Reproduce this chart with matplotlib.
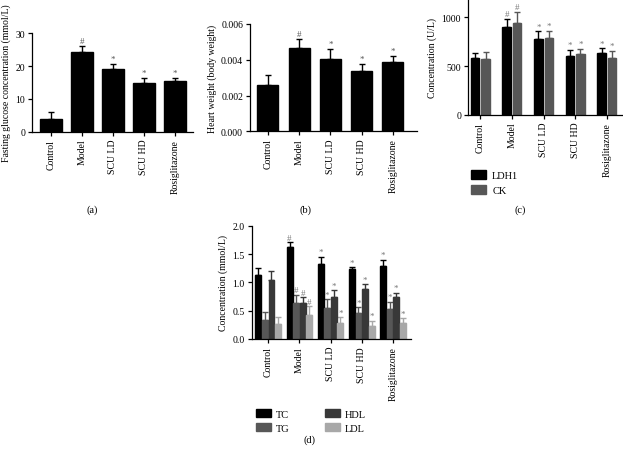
import numpy as np
import matplotlib
matplotlib.use("Agg")
import matplotlib.pyplot as plt
from matplotlib.patches import Patch

plt.rcParams["font.family"] = ["Liberation Serif", "DejaVu Serif"]
plt.rcParams["font.size"] = 7

groups = ["Control", "Model", "SCU LD", "SCU HD", "Rosiglitazone"]
marks = ["", "#", "*", "*", "*"]

# (a) fasting glucose
glucose = [3.9, 24.3, 19.1, 14.8, 15.4]
glucose_err = [2.0, 1.7, 1.6, 1.5, 1.0]

# (b) heart weight / body weight
heart = [0.00261, 0.00468, 0.00404, 0.00339, 0.00389]
heart_err = [0.00052, 0.0005, 0.00058, 0.00039, 0.00032]

# (c) enzymes
ldh1 = [582, 900, 777, 599, 630]
ldh1_err = [48, 83, 79, 65, 52]
ck = [575, 942, 784, 627, 579]
ck_err = [72, 116, 76, 51, 79]

# (d) lipids
tc = [1.13, 1.62, 1.33, 1.24, 1.28]
tc_err = [0.12, 0.09, 0.12, 0.03, 0.12]
tg = [0.34, 0.635, 0.55, 0.46, 0.535]
tg_err = [0.13, 0.145, 0.155, 0.105, 0.125]
hdl = [1.05, 0.63, 0.75, 0.89, 0.75]
hdl_err = [0.15, 0.105, 0.11, 0.08, 0.07]
ldl = [0.26, 0.42, 0.28, 0.235, 0.28]
ldl_err = [0.12, 0.16, 0.10, 0.085, 0.085]

W, H = 623, 452
fig = plt.figure(figsize=(W / 100, H / 100), dpi=100)


def add_ax(l, r, t, b):
    return fig.add_axes([l / W, 1 - b / H, (r - l) / W, (b - t) / H])


def style(ax):
    ax.spines["top"].set_visible(False)
    ax.spines["right"].set_visible(False)
    ax.spines["left"].set_linewidth(0.9)
    ax.spines["bottom"].set_linewidth(0.9)
    ax.tick_params(length=3, width=0.9, pad=2)
    ax.set_xticks(range(len(groups)))
    ax.set_xticklabels(groups, rotation=90)


def bars(ax, x, vals, errs, width, color, markc, mark_list, off):
    ax.bar(x, vals, width, color=color, edgecolor=color, zorder=2)
    ax.errorbar(x, vals, yerr=[np.zeros(len(vals)), errs], fmt="none",
                ecolor=color, elinewidth=1.0, capsize=2.5, capthick=1.0, zorder=1)
    for xi, v, e, m in zip(x, vals, errs, mark_list):
        if m:
            ax.text(xi, v + e + off, m, ha="center", va="bottom",
                    color=markc, fontsize=6.5)


x = np.arange(len(groups))

# panel a
ax = add_ax(32.3, 192.7, 34.3, 132.7)
bars(ax, x, glucose, glucose_err, 0.7, "black", "#555555", marks, 0.3)
ax.set_ylim(0, 30)
ax.set_yticks([0, 10, 20, 30])
ax.set_xlim(-0.6, 4.57)
ax.set_ylabel("Fasting glucose concentration (mmol/L)", labelpad=3)
style(ax)
fig.text(92 / W, 1 - 210 / H, "(a)", ha="center", va="center", fontsize=7.5)

# panel b
ax = add_ax(250, 416.7, 25, 132.3)
bars(ax, x, heart, heart_err, 0.67, "black", "#555555", marks, 0.00006)
ax.set_ylim(0, 0.006)
ax.set_yticks([0, 0.002, 0.004, 0.006])
ax.set_yticklabels(["0.000", "0.002", "0.004", "0.006"])
ax.set_xlim(-0.57, 4.76)
ax.set_ylabel("Heart weight (body weight)", labelpad=3)
style(ax)
fig.text(306 / W, 1 - 210 / H, "(b)", ha="center", va="center", fontsize=7.5)

# panel c
ax = add_ax(468, 623, 0, 115.7)
bars(ax, x - 0.165, ldh1, ldh1_err, 0.27, "black", "#777777",
     ["", "#", "*", "*", "*"], 10)
bars(ax, x + 0.165, ck, ck_err, 0.27, "#575757", "#777777",
     ["", "#", "*", "*", "*"], 10)
ax.set_ylim(0, 1190)
ax.set_yticks([0, 500, 1000])
ax.set_xlim(-0.39, 4.51)
ax.set_ylabel("Concentration (U/L)", labelpad=3)
style(ax)
fig.legend(handles=[Patch(color="black", label="LDH1"),
                    Patch(color="#575757", label="CK")],
           loc="upper left", bbox_to_anchor=(462 / W, 1 - 162 / H),
           frameon=False, handlelength=1.4, handleheight=0.9,
           handletextpad=0.6, labelspacing=0.45, fontsize=7.5)
fig.text(520 / W, 1 - 210 / H, "(c)", ha="center", va="center", fontsize=7.5)

# panel d
ax = add_ax(251.7, 410.7, 226.7, 340)
series = [(tc, tc_err, "black"), (tg, tg_err, "#575757"),
          (hdl, hdl_err, "#383838"), (ldl, ldl_err, "#a8a8a8")]
lipid_marks = [
    ["", "#", "*", "*", "*"],
    ["", "#", "*", "*", "*"],
    ["", "#", "*", "*", "*"],
    ["", "#", "*", "*", "*"],
]
offs = [-0.315, -0.105, 0.105, 0.315]
for (vals, errs, col), o, ml in zip(series, offs, lipid_marks):
    bars(ax, x + o, vals, errs, 0.19, col, "#777777", ml, 0.01)
ax.set_ylim(0, 2.0)
ax.set_yticks([0, 0.5, 1.0, 1.5, 2.0])
ax.set_yticklabels(["0.0", "0.5", "1.0", "1.5", "2.0"])
ax.set_xlim(-0.53, 4.57)
ax.set_ylabel("Concentration (mmol/L)", labelpad=3)
style(ax)
fig.legend(handles=[Patch(color="black", label="TC"),
                    Patch(color="#575757", label="TG"),
                    Patch(color="#383838", label="HDL"),
                    Patch(color="#a8a8a8", label="LDL")],
           loc="upper left", bbox_to_anchor=(247 / W, 1 - 401 / H), ncol=2,
           frameon=False, handlelength=1.4, handleheight=0.8,
           handletextpad=0.5, labelspacing=0.4, columnspacing=3.4, fontsize=7.5)
fig.text(309 / W, 1 - 440 / H, "(d)", ha="center", va="center", fontsize=7.5)

fig.savefig("out.png", dpi=100)
